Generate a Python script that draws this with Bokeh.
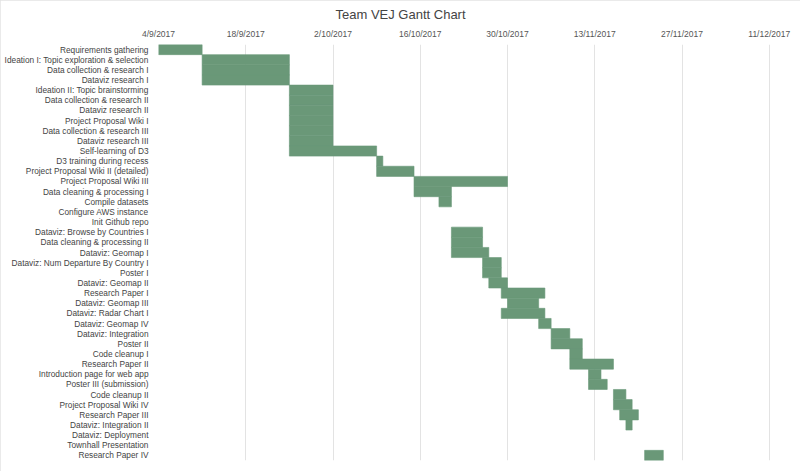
import pandas as pd
from bokeh.plotting import figure
from bokeh.models import ColumnDataSource, FactorRange, Range1d, FixedTicker, Title
from bokeh.embed import file_html
from bokeh.resources import INLINE

tasks = [
    "Requirements gathering",
    "Ideation I: Topic exploration & selection",
    "Data collection & research I",
    "Dataviz research I",
    "Ideation II: Topic brainstorming",
    "Data collection & research II",
    "Dataviz research II",
    "Project Proposal Wiki I",
    "Data collection & research III",
    "Dataviz research III",
    "Self-learning of D3",
    "D3 training during recess",
    "Project Proposal Wiki II (detailed)",
    "Project Proposal Wiki III",
    "Data cleaning & processing I",
    "Compile datasets",
    "Configure AWS instance",
    "Init Github repo",
    "Dataviz: Browse by Countries I",
    "Data cleaning & processing II",
    "Dataviz: Geomap I",
    "Dataviz: Num Departure By Country I",
    "Poster I",
    "Dataviz: Geomap II",
    "Research Paper I",
    "Dataviz: Geomap III",
    "Dataviz: Radar Chart I",
    "Dataviz: Geomap IV",
    "Dataviz: Integration",
    "Poster II",
    "Code cleanup I",
    "Research Paper II",
    "Introduction page for web app",
    "Poster III (submission)",
    "Code cleanup II",
    "Project Proposal Wiki IV",
    "Research Paper III",
    "Dataviz: Integration II",
    "Dataviz: Deployment",
    "Townhall Presentation",
    "Research Paper IV",
]

starts = [
    "2017-09-04", "2017-09-11", "2017-09-11", "2017-09-11",
    "2017-09-25", "2017-09-25", "2017-09-25", "2017-09-25", "2017-09-25", "2017-09-25",
    "2017-09-25", "2017-10-09", "2017-10-09", "2017-10-15", "2017-10-15", "2017-10-19",
    None, None,
    "2017-10-21", "2017-10-21", "2017-10-21", "2017-10-26", "2017-10-26", "2017-10-27",
    "2017-10-29", "2017-10-30", "2017-10-29", "2017-11-04", "2017-11-06", "2017-11-06",
    "2017-11-09", "2017-11-09", "2017-11-12", "2017-11-12", "2017-11-16", "2017-11-16",
    "2017-11-17", "2017-11-18", None, None, "2017-11-21",
]

ends = [
    "2017-09-11", "2017-09-25", "2017-09-25", "2017-09-25",
    "2017-10-02", "2017-10-02", "2017-10-02", "2017-10-02", "2017-10-02", "2017-10-02",
    "2017-10-09", "2017-10-10", "2017-10-15", "2017-10-30", "2017-10-21", "2017-10-21",
    None, None,
    "2017-10-26", "2017-10-26", "2017-10-27", "2017-10-29", "2017-10-29", "2017-10-30",
    "2017-11-05", "2017-11-04", "2017-11-05", "2017-11-06", "2017-11-09", "2017-11-11",
    "2017-11-11", "2017-11-16", "2017-11-14", "2017-11-15", "2017-11-18", "2017-11-19",
    "2017-11-20", "2017-11-19", None, None, "2017-11-24",
]

tick_dates = ["2017-09-04", "2017-09-18", "2017-10-02", "2017-10-16",
              "2017-10-30", "2017-11-13", "2017-11-27", "2017-12-11"]
tick_labels = ["4/9/2017", "18/9/2017", "2/10/2017", "16/10/2017",
               "30/10/2017", "13/11/2017", "27/11/2017", "11/12/2017"]

origin = pd.Timestamp("2017-09-04")


def day(s):
    return (pd.Timestamp(s) - origin).days


rows = [(t, day(s), day(e)) for t, s, e in zip(tasks, starts, ends) if s is not None]
src = ColumnDataSource(dict(
    task=[r[0] for r in rows],
    left=[r[1] for r in rows],
    right=[r[2] for r in rows],
))

tick_pos = [day(d) for d in tick_dates]

FONT = "Liberation Sans"
BAR = "#6a9878"

p = figure(
    width=800, height=471,
    y_range=FactorRange(factors=list(reversed(tasks)), range_padding=0),
    x_range=Range1d(0, 98.2),
    x_axis_location="above",
    output_backend="svg", toolbar_location=None,
    min_border_left=158, min_border_right=30, min_border_top=43, min_border_bottom=11,
    styles={"outline": "2px solid #e3e3e3", "outline-offset": "-2px"},
)

p.title = Title(text="Team VEJ Gantt Chart", align="left", offset=177, standoff=8,
                text_font_size="13px", text_font=FONT, text_color="#444444",
                text_font_style="normal")

p.hbar(y="task", left="left", right="right", height=1.0, source=src,
       fill_color=BAR, line_color=BAR, line_width=0.6)

p.xaxis.ticker = FixedTicker(ticks=tick_pos)
p.xaxis.major_label_overrides = {pos: lab for pos, lab in zip(tick_pos, tick_labels)}
p.xaxis.axis_line_color = None
p.xaxis.major_tick_line_color = None
p.xaxis.minor_tick_line_color = None
p.xaxis.major_label_text_font = FONT
p.xaxis.major_label_text_font_size = "8.5px"
p.xaxis.major_label_text_color = "#555555"
p.xaxis.major_label_standoff = 0

p.yaxis.axis_line_color = None
p.yaxis.major_tick_line_color = None
p.yaxis.minor_tick_line_color = None
p.yaxis.major_label_text_font = FONT
p.yaxis.major_label_text_font_size = "8.3px"
p.yaxis.major_label_text_color = "#444444"
p.yaxis.major_label_standoff = 4

p.xgrid.grid_line_color = "#e3e3e3"
p.ygrid.grid_line_color = None
p.outline_line_color = None

open("out.html", "w").write(file_html(p, INLINE))
